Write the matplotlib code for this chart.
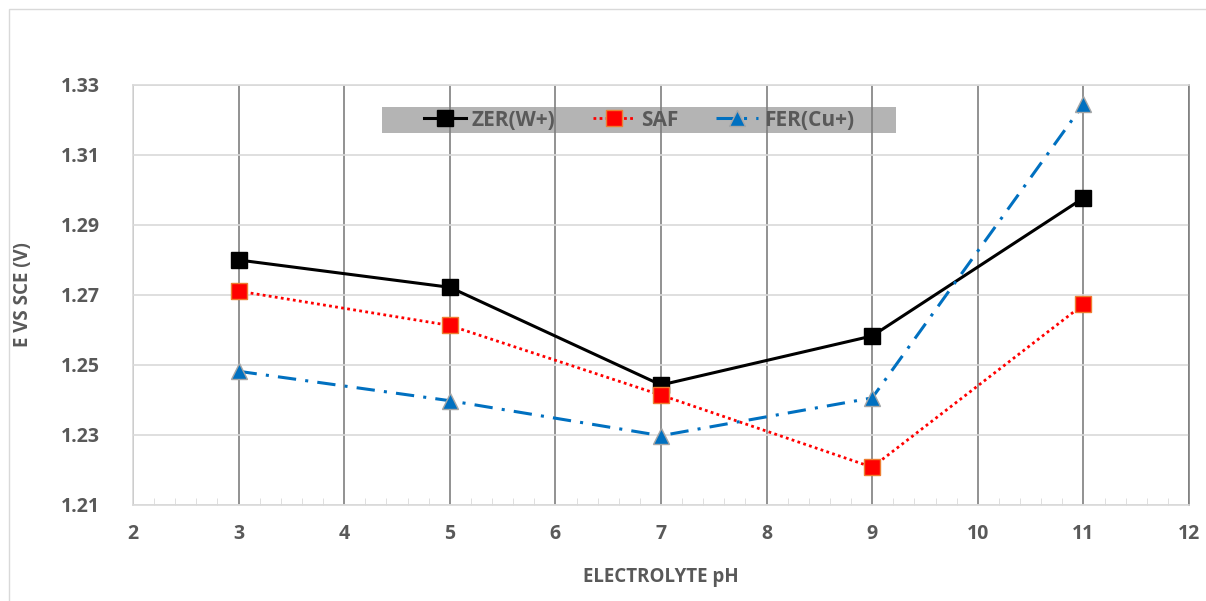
import matplotlib.pyplot as plt
from matplotlib.ticker import MultipleLocator
from matplotlib.patches import Rectangle

ph = [3, 5, 7, 9, 11]
zer = [1.280, 1.2722, 1.2443, 1.2583, 1.2977]
saf = [1.2711, 1.2613, 1.2414, 1.2208, 1.2673]
fer = [1.2482, 1.2398, 1.2298, 1.2406, 1.3245]

plt.rcParams['font.family'] = ['Open Sans', 'DejaVu Sans']
txt = '#595959'

fig = plt.figure(figsize=(12.06, 6.01), dpi=100)
ax = fig.add_axes([133/1206, 1 - 505/601, (1189-133)/1206, 420/601])

# outer chart border
fig.patches.append(Rectangle((9/1206, -0.01), 1.0, 1 - 9/601 + 0.01, transform=fig.transFigure,
                             fill=False, edgecolor='#d9d9d9', linewidth=1))

ax.plot(ph, zer, color='black', lw=2.2, marker='s', ms=11, label='ZER(W+)', zorder=4)
ax.plot(ph, saf, color='red', lw=2, ls=(0, (1, 1.2)), marker='s', ms=11,
        mfc='red', mec='#ed7d31', mew=1, label='SAF', zorder=4)
ax.plot(ph, fer, color='#0070c0', lw=2.2, ls=(0, (6, 3, 1, 3)), marker='^', ms=11,
        mfc='#0070c0', mec='#a6a6a6', mew=1, label='FER(Cu+)', zorder=4)

ax.set_xlim(2, 12)
ax.set_ylim(1.21, 1.33)
ax.xaxis.set_minor_locator(MultipleLocator(0.2))
ax.set_yticks([1.21, 1.23, 1.25, 1.27, 1.29, 1.31, 1.33])
ax.set_xticks(range(2, 13))

ax.grid(axis='y', color='#d9d9d9', lw=1.2)
ax.grid(axis='x', which='major', color='#7f7f7f', lw=1.2)
ax.set_axisbelow(True)

for s in ['left', 'top', 'bottom']:
    ax.spines[s].set_color('#d9d9d9')
    ax.spines[s].set_linewidth(1.2)
ax.spines['right'].set_color('#7f7f7f')
ax.spines['right'].set_linewidth(1.2)

ax.tick_params(axis='x', which='major', length=0, pad=14, labelsize=14, labelcolor=txt)
ax.tick_params(axis='x', which='minor', direction='in', length=5, color='#d9d9d9')
ax.tick_params(axis='y', length=0, pad=24, labelsize=14, labelcolor=txt)
for lab in ax.get_xticklabels() + ax.get_yticklabels():
    lab.set_fontweight('bold')

ax.set_xlabel('ELECTROLYTE pH', fontsize=13.5, fontweight='bold', color=txt, labelpad=16)
ax.set_ylabel('E VS SCE (V)', fontsize=13.5, fontweight='bold', color=txt, labelpad=20)

# gray band behind the legend (gridlines show through it)
ax.add_patch(Rectangle(((382-133)/1056, (505-133)/420), 514/1056, 26/420,
                       transform=ax.transAxes, facecolor='#b4b4b4', edgecolor='none', zorder=0.3))

leg = ax.legend(loc='center', bbox_to_anchor=((639-133)/1056, (505-120)/420),
                ncol=3, frameon=False, prop={'size': 15, 'weight': 'bold'},
                handlelength=2.0, handletextpad=0.3, columnspacing=1.8, borderpad=0)
leg.set_zorder(5)
for t in leg.get_texts():
    t.set_color(txt)

fig.savefig('out.png', dpi=100)
